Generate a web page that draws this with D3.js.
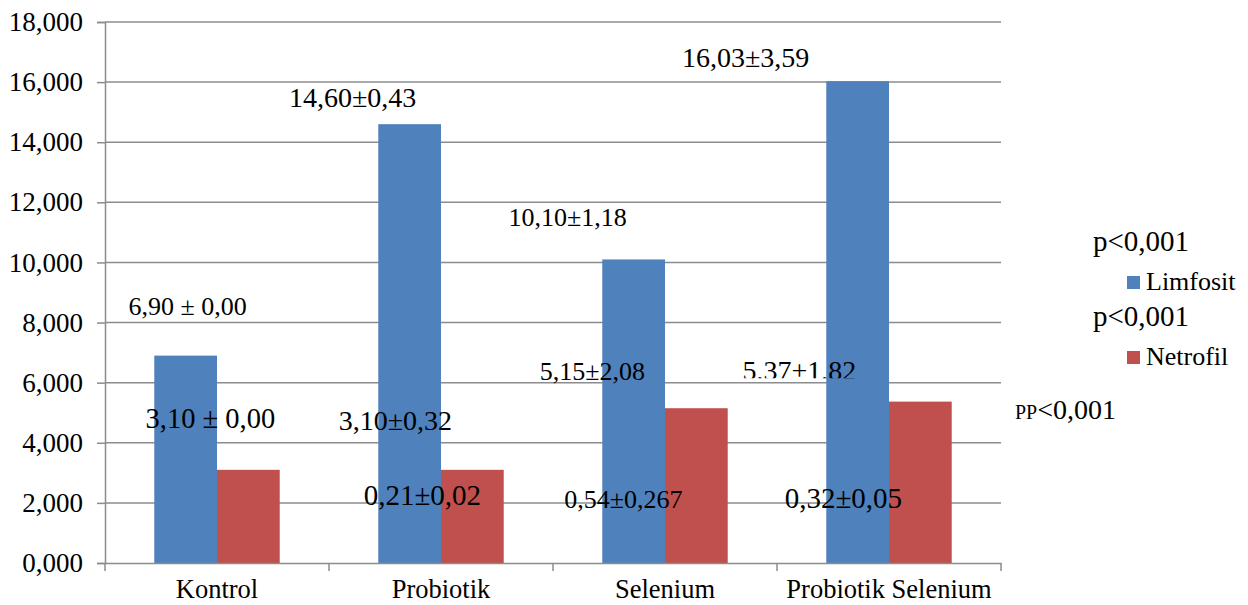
<!DOCTYPE html>
<html>
<head>
<meta charset="utf-8">
<script src="https://cdn.jsdelivr.net/npm/d3@7"></script>
<style>
  body { margin: 0; background: #fff; }
</style>
</head>
<body>
<svg id="chart" width="1248" height="605" font-family="Liberation Serif"></svg>
<script>
const categories = ['Kontrol', 'Probiotik', 'Selenium', 'Probiotik Selenium'];
const series = ['Limfosit', 'Netrofil'];
const limfosit = [6.90, 14.60, 10.10, 16.03];
const netrofil = [3.10, 3.10, 5.15, 5.37];
const yTicks = [0, 2, 4, 6, 8, 10, 12, 14, 16, 18];

// text annotations as written on the original chart
const limfositLabels = ['6,90 ± 0,00', '14,60±0,43', '10,10±1,18', '16,03±3,59'];
const netrofilLabels = ['3,10 ± 0,00', '3,10±0,32', '5,15±2,08', '5,37+1,82'];
const extraLabels = ['', '0,21±0,02', '0,54±0,267', '0,32±0,05'];
const pLabels = ['p<0,001', 'p<0,001'];

const colors = ['#4F81BD', '#C0504D'];
const serif = 'Liberation Serif';

const svg = d3.select('#chart');
const margin = { top: 22, right: 247, bottom: 42, left: 105 };
const width = 1248 - margin.left - margin.right;
const height = 605 - margin.top - margin.bottom;

const g = svg.append('g').attr('transform', `translate(${margin.left},${margin.top})`);

const x0 = d3.scaleBand().domain(categories).range([0, width]).padding(0);
const x1 = d3.scaleBand().domain(series)
  .range([x0.bandwidth() * 0.22, x0.bandwidth() * 0.78]).padding(0);
const y = d3.scaleLinear().domain([0, 18]).range([height, 0]);

const locale = d3.formatLocale({ decimal: ',', thousands: '.', grouping: [3], currency: ['', ''] });
const fmt = locale.format('.3f');

// gridlines
g.append('g')
  .selectAll('line')
  .data(yTicks.slice(1))
  .enter().append('line')
  .attr('x1', 0).attr('x2', width)
  .attr('y1', d => y(d)).attr('y2', d => y(d))
  .style('stroke', '#8c8c8c')
  .style('stroke-width', 1.5);

// bars
const values = [limfosit, netrofil];
series.forEach((s, si) => {
  g.append('g').selectAll('rect')
    .data(categories)
    .enter().append('rect')
    .attr('x', d => x0(d) + x1(s))
    .attr('y', (d, i) => y(values[si][i]))
    .attr('width', x1.bandwidth())
    .attr('height', (d, i) => height - y(values[si][i]))
    .style('fill', colors[si]);
});

// y axis
const yAxis = g.append('g')
  .call(d3.axisLeft(y).tickValues(yTicks).tickFormat(fmt).tickSize(8).tickPadding(14))
  .attr('font-family', serif);
yAxis.selectAll('line, path').style('stroke', '#8c8c8c').style('stroke-width', 1.5);
yAxis.selectAll('text').attr('font-family', serif).style('font-size', '27px').style('fill', '#000');

// x axis
const xAxis = g.append('g')
  .attr('transform', `translate(0,${height})`)
  .call(d3.axisBottom(x0).tickSize(0).tickPadding(16))
  .attr('font-family', serif);
xAxis.select('.domain').style('stroke', '#8c8c8c').style('stroke-width', 1.5);
xAxis.selectAll('text').attr('font-family', serif).style('font-size', '26.5px').style('fill', '#000');
g.append('g').selectAll('line')
  .data(categories.concat(['end']))
  .enter().append('line')
  .attr('x1', (d, i) => i < categories.length ? x0(d) : width)
  .attr('x2', (d, i) => i < categories.length ? x0(d) : width)
  .attr('y1', height).attr('y2', height + 8)
  .style('stroke', '#8c8c8c').style('stroke-width', 1.5);

// annotation layout: [dx from bar centre, y in axis units, font size]
const limfositPos = [[2, 8.25, 26], [-57, 15.17, 28], [-66, 11.21, 26], [-112, 16.5, 28]];
const netrofilPos = [[-38, 4.49, 28.5], [-77, 4.42, 28], [-104, 6.09, 26], [-121, 6.09, 28]];
const extraPos = [[0, 0, 0], [-50, 1.93, 29], [-73, 1.83, 26], [-77, 1.83, 29]];

svg.append('defs').append('clipPath').attr('id', 'cut')
  .append('rect').attr('x', 0).attr('y', 0).attr('width', width).attr('height', y(6.15));

function drawLabels(labels, pos, s, clipLast) {
  g.append('g').selectAll('text')
    .data(labels)
    .enter().append('text')
    .filter(d => d !== '')
    .attr('x', d => x0(categories[labels.indexOf(d)]) + x1(s) + x1.bandwidth() / 2 + pos[labels.indexOf(d)][0])
    .attr('y', d => y(pos[labels.indexOf(d)][1]))
    .attr('text-anchor', 'middle')
    .attr('font-family', serif)
    .style('font-size', d => pos[labels.indexOf(d)][2] + 'px')
    .style('fill', '#000')
    .attr('clip-path', d => clipLast && labels.indexOf(d) === 3 ? 'url(#cut)' : null)
    .text(d => d);
}
drawLabels(limfositLabels, limfositPos, 'Limfosit', false);
drawLabels(netrofilLabels, netrofilPos, 'Netrofil', true);
drawLabels(extraLabels, extraPos, 'Netrofil', false);

// legend
const legend = svg.append('g').attr('font-family', serif);
series.forEach((s, i) => {
  const top = 251 + i * 75;
  legend.append('text')
    .attr('x', 1093).attr('y', top)
    .style('font-size', '29px').style('fill', '#000')
    .text(pLabels[i]);
  legend.append('rect')
    .attr('x', 1127).attr('y', top + 25)
    .attr('width', 13).attr('height', 13)
    .style('fill', colors[i]);
  legend.append('text')
    .attr('x', 1146).attr('y', top + 39)
    .style('font-size', '26px').style('fill', '#000')
    .text(s);
});

const pp = svg.append('text')
  .attr('x', 1015).attr('y', 419)
  .attr('font-family', serif)
  .style('font-size', '28px').style('fill', '#000');
pp.append('tspan').style('font-size', '20px').text('PP');
pp.append('tspan').text('<0,001');
</script>
</body>
</html>
